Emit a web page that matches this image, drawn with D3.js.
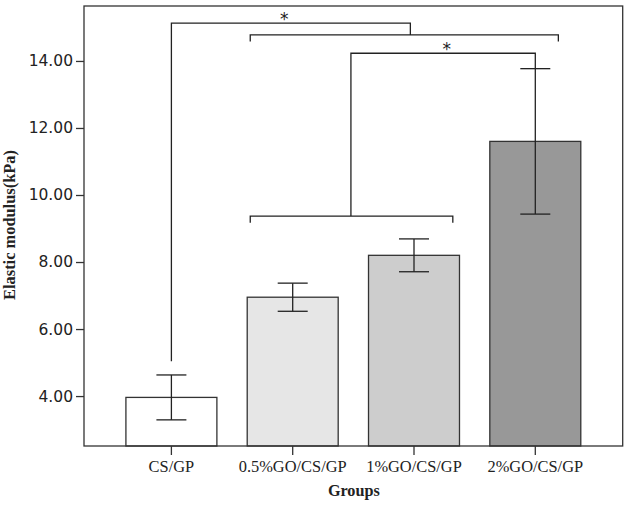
<!DOCTYPE html>
<html>
<head>
<meta charset="utf-8">
<script src="https://cdn.jsdelivr.net/npm/d3@7"></script>
<style>
  body { margin: 0; background: #fff; }
  svg { display: block; }
</style>
</head>
<body>
<div id="chart"></div>
<script>
// data
var groups = ['CS/GP', '0.5%GO/CS/GP', '1%GO/CS/GP', '2%GO/CS/GP'];
var means = [3.96, 6.95, 8.20, 11.60];
var errs = [0.67, 0.42, 0.49, 2.17];
var fills = ['#ffffff', '#e6e6e6', '#cdcdcd', '#989898'];
var yTicks = [4, 6, 8, 10, 12, 14];

// significance brackets: single end (index, value), group line span (indices), joint, heights
var sigSingle = [[0, 5.04], [3, 13.79]];
var sigSpan = [[0.65, 3.19], [0.65, 2.32]];
var sigJoint = [1.97, 1.48];
var sigTop = [15.13, 14.23];
var sigGroupLine = [14.78, 9.37];
var sigLabels = ['*', '*'];
var sigLabelAt = [0.93, 2.27]; // label position along the top line (index units)

var width = 630, height = 506;
var margin = { top: 6, right: 7.3, bottom: 60, left: 84 };

var svg = d3.select('#chart').append('svg')
    .attr('width', width)
    .attr('height', height);

var x = d3.scaleBand()
    .domain(groups)
    .range([margin.left, width - margin.right])
    .paddingInner(0.25)
    .paddingOuter(0.3455);

var y = d3.scaleLinear()
    .domain([2.51, 15.64])
    .range([height - margin.bottom, margin.top]);

// index -> x (band centres), for bracket ends
var xi = d3.scaleLinear()
    .domain([0, 1])
    .range([x(groups[0]) + x.bandwidth() / 2, x(groups[1]) + x.bandwidth() / 2]);

var ink = '#333';

// bars
svg.append('g')
  .selectAll('rect')
  .data(groups)
  .enter()
  .append('rect')
    .attr('x', function(d) { return x(d); })
    .attr('y', function(d, i) { return y(means[i]); })
    .attr('width', x.bandwidth())
    .attr('height', function(d, i) { return y.range()[0] - y(means[i]); })
    .attr('fill', function(d, i) { return fills[i]; })
    .attr('stroke', ink)
    .attr('stroke-width', 1.3);

// error bars
var eb = svg.append('g')
    .attr('stroke', '#222')
    .attr('stroke-width', 1.3)
  .selectAll('g')
  .data(groups)
  .enter()
  .append('g');

eb.append('line')
    .attr('x1', function(d) { return x(d) + x.bandwidth() / 2; })
    .attr('x2', function(d) { return x(d) + x.bandwidth() / 2; })
    .attr('y1', function(d, i) { return y(means[i] - errs[i]); })
    .attr('y2', function(d, i) { return y(means[i] + errs[i]); });

[-1, 1].forEach(function(s) {
  eb.append('line')
      .attr('x1', function(d) { return x(d) + x.bandwidth() / 2 - 15; })
      .attr('x2', function(d) { return x(d) + x.bandwidth() / 2 + 15; })
      .attr('y1', function(d, i) { return y(means[i] + s * errs[i]); })
      .attr('y2', function(d, i) { return y(means[i] + s * errs[i]); });
});

// significance brackets
var sig = svg.append('g')
    .attr('fill', 'none')
    .attr('stroke', '#222')
    .attr('stroke-width', 1.3);

sigTop.forEach(function(top, k) {
  var s = sigSingle[k], span = sigSpan[k];
  var tickEnd = sigGroupLine[k] - 0.2;
  // main bracket: single end up to top, across, down to the group line
  var p = d3.path();
  p.moveTo(xi(s[0]), y(s[1]));
  p.lineTo(xi(s[0]), y(top));
  p.lineTo(xi(sigJoint[k]), y(top));
  p.lineTo(xi(sigJoint[k]), y(sigGroupLine[k]));
  // group line with small end ticks
  p.moveTo(xi(span[0]), y(tickEnd));
  p.lineTo(xi(span[0]), y(sigGroupLine[k]));
  p.lineTo(xi(span[1]), y(sigGroupLine[k]));
  p.lineTo(xi(span[1]), y(tickEnd));
  sig.append('path').attr('d', p.toString());

  svg.append('text')
      .attr('x', xi(sigLabelAt[k]))
      .attr('y', y(top) + 2)
      .attr('text-anchor', 'middle')
      .style('font-family', '"DejaVu Sans", sans-serif')
      .style('font-size', '17px')
      .attr('fill', '#222')
      .text(sigLabels[k]);
});

// frame
svg.append('rect')
    .attr('x', margin.left)
    .attr('y', margin.top)
    .attr('width', width - margin.left - margin.right)
    .attr('height', height - margin.top - margin.bottom)
    .attr('fill', 'none')
    .attr('stroke', ink)
    .attr('stroke-width', 1.3);

// axes
var yAxis = svg.append('g')
    .attr('transform', 'translate(' + margin.left + ',0)')
    .call(d3.axisLeft(y)
      .tickValues(yTicks)
      .tickFormat(d3.format('.2f'))
      .tickSize(8)
      .tickPadding(3)
      .tickSizeOuter(0));
yAxis.select('.domain').remove();
yAxis.selectAll('line').attr('stroke', ink).attr('stroke-width', 1.3);
yAxis.selectAll('text')
    .attr('fill', '#222')
    .style('font-family', '"DejaVu Sans", sans-serif')
    .style('font-size', '15.5px');

var xAxis = svg.append('g')
    .attr('transform', 'translate(0,' + (height - margin.bottom) + ')')
    .call(d3.axisBottom(x)
      .tickSize(9)
      .tickPadding(5)
      .tickSizeOuter(0));
xAxis.select('.domain').remove();
xAxis.selectAll('line').attr('stroke', ink).attr('stroke-width', 1.3);
xAxis.selectAll('text')
    .attr('fill', '#222')
    .style('font-family', '"Liberation Serif", serif')
    .style('font-size', '16.4px');

// axis titles
svg.append('text')
    .attr('x', (margin.left + width - margin.right) / 2 + 0.5)
    .attr('y', 496)
    .attr('text-anchor', 'middle')
    .attr('fill', '#222')
    .style('font-family', '"Liberation Serif", serif')
    .style('font-size', '16.2px')
    .style('font-weight', 'bold')
    .text('Groups');

svg.append('text')
    .attr('transform', 'translate(15,225) rotate(-90)')
    .attr('text-anchor', 'middle')
    .attr('fill', '#222')
    .style('font-family', '"Liberation Serif", serif')
    .style('font-size', '16.4px')
    .style('font-weight', 'bold')
    .text('Elastic modulus(kPa)');
</script>
</body>
</html>
